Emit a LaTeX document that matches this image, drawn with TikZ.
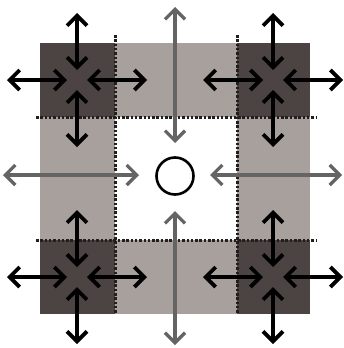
\documentclass[tikz,border=0pt]{standalone}
\usetikzlibrary{arrows.meta}
\definecolor{darkc}{RGB}{76,68,66}
\definecolor{lightc}{RGB}{168,160,156}
\definecolor{dotc}{RGB}{35,30,30}
\definecolor{grayarr}{RGB}{100,100,100}
\begin{document}
\begin{tikzpicture}[x=1pt,y=-1pt,
  barb/.tip={Straight Barb[length=10pt,width=20pt]},
  blk/.style={line width=3.8pt, black, barb-barb},
  gry/.style={line width=3.3pt, grayarr, barb-barb},
  dots/.style={dotc, line width=3pt, dash pattern=on 2.5pt off 1.8pt}]
\useasboundingbox (0,0) rectangle (343,348);
% grid of squares
\fill[lightc] (40,43) rectangle (310,314);
\fill[white] (115,117) rectangle (237,240);
\fill[darkc] (40,43) rectangle (115,117);
\fill[darkc] (237,43) rectangle (310,117);
\fill[darkc] (40,240) rectangle (115,314);
\fill[darkc] (237,240) rectangle (310,314);
% dotted dividing lines
\draw[dots] (115,35) -- (115,314);
\draw[dots] (237,35) -- (237,314);
\draw[dots] (36,117) -- (316,117);
\draw[dots] (36,240) -- (316,240);
% grey arrows towards the centre
\coordinate (c) at (175,176);
\draw[gry] (175,7) -- (175,143);
\draw[gry] (175,345) -- (175,211);
\draw[gry] (3,175) -- (139,175);
\draw[gry] (342,175) -- (210,175);
\draw[line width=2.6pt] (c) circle[radius=18.5];
% black crosses in the corner squares
\foreach \cx/\cy in {77/80, 273/80, 77/277, 273/277}{
  \begin{scope}[shift={(\cx,\cy)}]
    \draw[blk] (0,-10) -- (0,-67);
    \draw[blk] (0,10) -- (0,67);
    \draw[blk] (-10,0) -- (-70,0);
    \draw[blk] (10,0) -- (70,0);
  \end{scope}
}
\end{tikzpicture}
\end{document}
